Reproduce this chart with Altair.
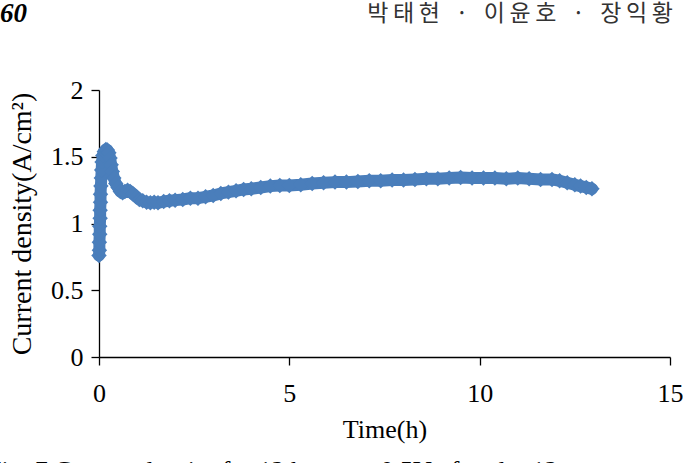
import altair as alt
import pandas as pd

# ---- data ----
time_h = [0.00, 0.01, 0.01, 0.02, 0.02, 0.03, 0.03, 0.04, 0.04, 0.05, 0.06, 0.07, 0.08, 0.10,
          0.14, 0.18, 0.22, 0.26, 0.29, 0.32, 0.35, 0.39, 0.44, 0.50, 0.56, 0.62, 0.68, 0.75,
          0.82, 0.90, 0.98, 1.06, 1.15, 1.25, 1.35, 1.45, 1.55, 1.70, 1.85, 2.00, 2.20, 2.40,
          2.60, 2.80, 3.00, 3.20, 3.40, 3.60, 3.80, 4.00, 4.25, 4.50, 4.75, 5.00, 5.30, 5.60,
          5.90, 6.20, 6.50, 6.80, 7.10, 7.40, 7.70, 8.00, 8.30, 8.60, 8.90, 9.20, 9.50, 9.80,
          10.10, 10.40, 10.70, 11.00, 11.30, 11.60, 11.90, 12.10, 12.30, 12.50, 12.65, 12.80,
          12.95]
current_density = [0.76, 0.80, 0.86, 0.92, 0.98, 1.04, 1.10, 1.16, 1.22, 1.28, 1.34, 1.40,
                   1.46, 1.51, 1.54, 1.555, 1.55, 1.53, 1.49, 1.44, 1.39, 1.34, 1.30, 1.27,
                   1.24, 1.23, 1.24, 1.25, 1.24, 1.22, 1.20, 1.18, 1.17, 1.16, 1.155, 1.16,
                   1.155, 1.165, 1.17, 1.175, 1.18, 1.19, 1.19, 1.20, 1.21, 1.225, 1.235,
                   1.245, 1.255, 1.26, 1.27, 1.28, 1.285, 1.285, 1.29, 1.30, 1.305, 1.31,
                   1.31, 1.315, 1.32, 1.32, 1.325, 1.325, 1.33, 1.335, 1.335, 1.34, 1.345,
                   1.34, 1.34, 1.34, 1.335, 1.34, 1.335, 1.33, 1.33, 1.32, 1.305, 1.29, 1.28,
                   1.27, 1.26]
x_ticks = [0, 5, 10, 15]
y_ticks = [0, 0.5, 1, 1.5, 2]
page_number = ["60"]
T = "\u2009"
SEP = "\u00a0\u00a0\u00a0·\u00a0\u00a0\u00a0"
authors = ["박" + T + "태" + T + "현" + SEP + "이" + T + "윤" + T + "호" + SEP + "장" + T + "익" + T + "황"]
caption = ["Fig. 7 Current density for 12 hours at 0.5V of under 12"]

df = pd.DataFrame({"t": time_h, "j": current_density})
BLUE = "#4a7ebb"
SERIF = "Liberation Serif"

x = alt.X("t:Q", scale=alt.Scale(domain=[0, 15], nice=False),
          axis=alt.Axis(values=x_ticks, title="Time(h)", labelFlush=False,
                        labelPadding=15, titlePadding=10))
y = alt.Y("j:Q", scale=alt.Scale(domain=[0, 2], nice=False),
          axis=alt.Axis(values=y_ticks, title="Current density(A/cm²)",
                        labelExpr="'' + datum.value", labelPadding=8, titlePadding=14,
                        titleFontSize=28))

line = alt.Chart(df).mark_line(color=BLUE, strokeWidth=12, strokeJoin="round",
                               strokeCap="round").encode(x=x, y=y)
pts = alt.Chart(df).mark_point(shape="diamond", filled=True, size=240, color=BLUE,
                               opacity=1).encode(x=x, y=y)

hdr_num = alt.Chart(pd.DataFrame({"s": page_number})).mark_text(
    font=SERIF, fontSize=27, fontWeight="bold", fontStyle="italic",
    align="left", baseline="middle", color="#000").encode(
    text="s:N", x=alt.value(-99), y=alt.value(-76))
hdr_auth = alt.Chart(pd.DataFrame({"s": authors})).mark_text(
    font="Noto Sans CJK KR", fontSize=23, align="right", baseline="middle",
    color="#333").encode(text="s:N", x=alt.value(574), y=alt.value(-76))
cap = alt.Chart(pd.DataFrame({"s": caption})).mark_text(
    font=SERIF, fontSize=26, align="left", baseline="alphabetic",
    color="#000").encode(text="s:N", x=alt.value(-112), y=alt.value(389))

chart = alt.layer(line, pts, hdr_num, hdr_auth, cap).properties(
    width=571, height=267,
    padding={"left": 99, "top": 90, "right": 13, "bottom": 106},
    autosize=alt.AutoSizeParams(type="none"),
).configure_view(stroke=None).configure_axis(
    grid=False, domainColor="#000", domainWidth=1.3, tickColor="#000", tickWidth=1.3,
    tickSize=8, labelFont=SERIF, labelFontSize=26, labelColor="#000",
    titleFont=SERIF, titleFontSize=26, titleFontWeight="normal", titleColor="#000")

chart.save("out.html", embed_options={"renderer": "svg", "actions": False})
